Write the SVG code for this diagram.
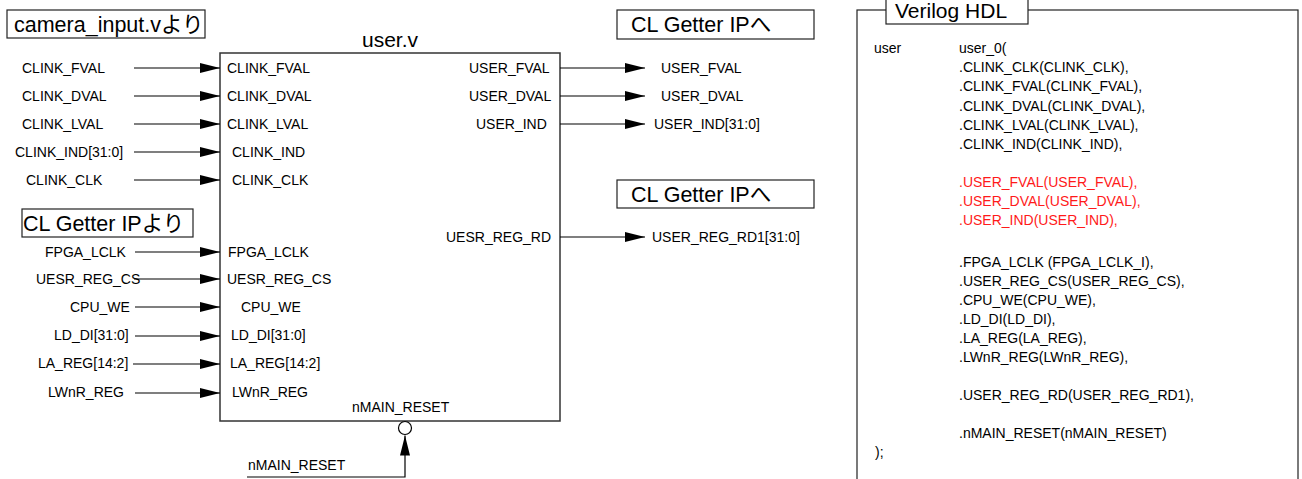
<svg xmlns="http://www.w3.org/2000/svg" width="1302" height="479" viewBox="0 0 1302 479">
<style>
text{font-family:"Liberation Sans",Arial,sans-serif;fill:#000}
.t{font-size:14px}
.h{font-size:21.5px;font-family:"Liberation Sans","Noto Sans CJK JP",sans-serif}
.c{font-size:14px}
.red{fill:#ff1a1a}
.w{stroke:#000;stroke-width:1.2;fill:none}
.bx{fill:#fff;stroke:#222;stroke-width:1.2}
</style>
<defs>
<marker id="ah" markerUnits="userSpaceOnUse" markerWidth="20" markerHeight="10" refX="20" refY="5" orient="auto">
<path d="M0,0 L20,5 L0,10 Z" fill="#000"/>
</marker>
</defs>

<g id="user_v">
<rect x="220" y="53" width="340" height="368" fill="#fff" stroke="#333" stroke-width="1.5"/>
<text x="390" y="47" text-anchor="middle" style="font-size:21px">user.v</text>
<text class="t" x="227" y="73">CLINK_FVAL</text>
<text class="t" x="227" y="101">CLINK_DVAL</text>
<text class="t" x="227" y="129">CLINK_LVAL</text>
<text class="t" x="232" y="157">CLINK_IND</text>
<text class="t" x="232" y="185">CLINK_CLK</text>
<text class="t" x="228" y="257">FPGA_LCLK</text>
<text class="t" x="227" y="284">UESR_REG_CS</text>
<text class="t" x="241" y="312">CPU_WE</text>
<text class="t" x="231" y="340">LD_DI[31:0]</text>
<text class="t" x="230" y="368">LA_REG[14:2]</text>
<text class="t" x="232" y="397">LWnR_REG</text>
<text class="t" x="469" y="73">USER_FVAL</text>
<text class="t" x="469" y="101">USER_DVAL</text>
<text class="t" x="476" y="129">USER_IND</text>
<text class="t" x="446" y="242">UESR_REG_RD</text>
<text class="t" x="352" y="412">nMAIN_RESET</text>
<circle cx="405" cy="428" r="6.5" fill="#fff" stroke="#000" stroke-width="1.2"/>
</g>

<g id="src_camera">
<rect class="bx" x="7" y="10" width="198" height="28"/>
<text class="h" x="14" y="31.5">camera_input.vより</text>
</g>
<g id="src_clgetter">
<rect class="bx" x="22" y="209" width="171" height="28"/>
<text class="h" x="23" y="230.5">CL Getter IPより</text>
</g>
<g id="dst_clgetter1">
<rect class="bx" x="617" y="10" width="197" height="29"/>
<text class="h" x="631" y="31.5">CL Getter IPへ</text>
</g>
<g id="dst_clgetter2">
<rect class="bx" x="617" y="180" width="197" height="28"/>
<text class="h" x="631" y="201.5">CL Getter IPへ</text>
</g>

<g id="in_labels">
<text class="t" x="22" y="73">CLINK_FVAL</text>
<text class="t" x="22" y="101">CLINK_DVAL</text>
<text class="t" x="22" y="129">CLINK_LVAL</text>
<text class="t" x="15" y="157">CLINK_IND[31:0]</text>
<text class="t" x="26" y="185">CLINK_CLK</text>
<text class="t" x="45" y="257">FPGA_LCLK</text>
<text class="t" x="36" y="284">UESR_REG_CS</text>
<text class="t" x="70" y="312">CPU_WE</text>
<text class="t" x="54" y="340">LD_DI[31:0]</text>
<text class="t" x="38" y="368">LA_REG[14:2]</text>
<text class="t" x="48" y="397">LWnR_REG</text>
</g>
<g id="out_labels">
<text class="t" x="661" y="73">USER_FVAL</text>
<text class="t" x="661" y="101">USER_DVAL</text>
<text class="t" x="654" y="129">USER_IND[31:0]</text>
<text class="t" x="652" y="242">USER_REG_RD1[31:0]</text>
<text class="t" x="248" y="470">nMAIN_RESET</text>
</g>

<g id="connectors">
<line class="w" x1="134" y1="68" x2="220" y2="68" marker-end="url(#ah)"/>
<line class="w" x1="134" y1="96" x2="220" y2="96" marker-end="url(#ah)"/>
<line class="w" x1="134" y1="124" x2="220" y2="124" marker-end="url(#ah)"/>
<line class="w" x1="134" y1="152" x2="220" y2="152" marker-end="url(#ah)"/>
<line class="w" x1="134" y1="180" x2="220" y2="180" marker-end="url(#ah)"/>
<line class="w" x1="135" y1="252" x2="220" y2="252" marker-end="url(#ah)"/>
<line class="w" x1="134" y1="279" x2="220" y2="279" marker-end="url(#ah)"/>
<line class="w" x1="135" y1="307" x2="220" y2="307" marker-end="url(#ah)"/>
<line class="w" x1="135" y1="336" x2="220" y2="336" marker-end="url(#ah)"/>
<line class="w" x1="133" y1="364" x2="220" y2="364" marker-end="url(#ah)"/>
<line class="w" x1="135" y1="393" x2="220" y2="393" marker-end="url(#ah)"/>
<line class="w" x1="560" y1="68" x2="645" y2="68" marker-end="url(#ah)"/>
<line class="w" x1="560" y1="96" x2="645" y2="96" marker-end="url(#ah)"/>
<line class="w" x1="560" y1="124" x2="645" y2="124" marker-end="url(#ah)"/>
<line class="w" x1="560" y1="237" x2="645" y2="237" marker-end="url(#ah)"/>
<polyline class="w" points="247,477 405,477 405,435.5" marker-end="url(#ah)"/>
</g>

<g id="verilog_panel">
<rect x="857" y="10" width="441" height="490" fill="#fff" stroke="#222" stroke-width="1.2"/>
<rect class="bx" x="886" y="-3" width="142" height="27"/>
<text x="895" y="18" style="font-size:21px">Verilog HDL</text>
<text class="c" x="874" y="53">user</text>
<text class="c" x="959" y="53">user_0(</text>
<text class="c" x="959" y="72">.CLINK_CLK(CLINK_CLK),</text>
<text class="c" x="959" y="91">.CLINK_FVAL(CLINK_FVAL),</text>
<text class="c" x="959" y="111">.CLINK_DVAL(CLINK_DVAL),</text>
<text class="c" x="959" y="130">.CLINK_LVAL(CLINK_LVAL),</text>
<text class="c" x="959" y="149">.CLINK_IND(CLINK_IND),</text>
<text class="c red" x="959" y="187">.USER_FVAL(USER_FVAL),</text>
<text class="c red" x="959" y="206">.USER_DVAL(USER_DVAL),</text>
<text class="c red" x="959" y="225">.USER_IND(USER_IND),</text>
<text class="c" x="959" y="267">.FPGA_LCLK (FPGA_LCLK_I),</text>
<text class="c" x="959" y="286">.USER_REG_CS(USER_REG_CS),</text>
<text class="c" x="959" y="305">.CPU_WE(CPU_WE),</text>
<text class="c" x="959" y="324">.LD_DI(LD_DI),</text>
<text class="c" x="959" y="343">.LA_REG(LA_REG),</text>
<text class="c" x="959" y="362">.LWnR_REG(LWnR_REG),</text>
<text class="c" x="959" y="400">.USER_REG_RD(USER_REG_RD1),</text>
<text class="c" x="959" y="438">.nMAIN_RESET(nMAIN_RESET)</text>
<text class="c" x="875" y="457">);</text>
</g>
</svg>
